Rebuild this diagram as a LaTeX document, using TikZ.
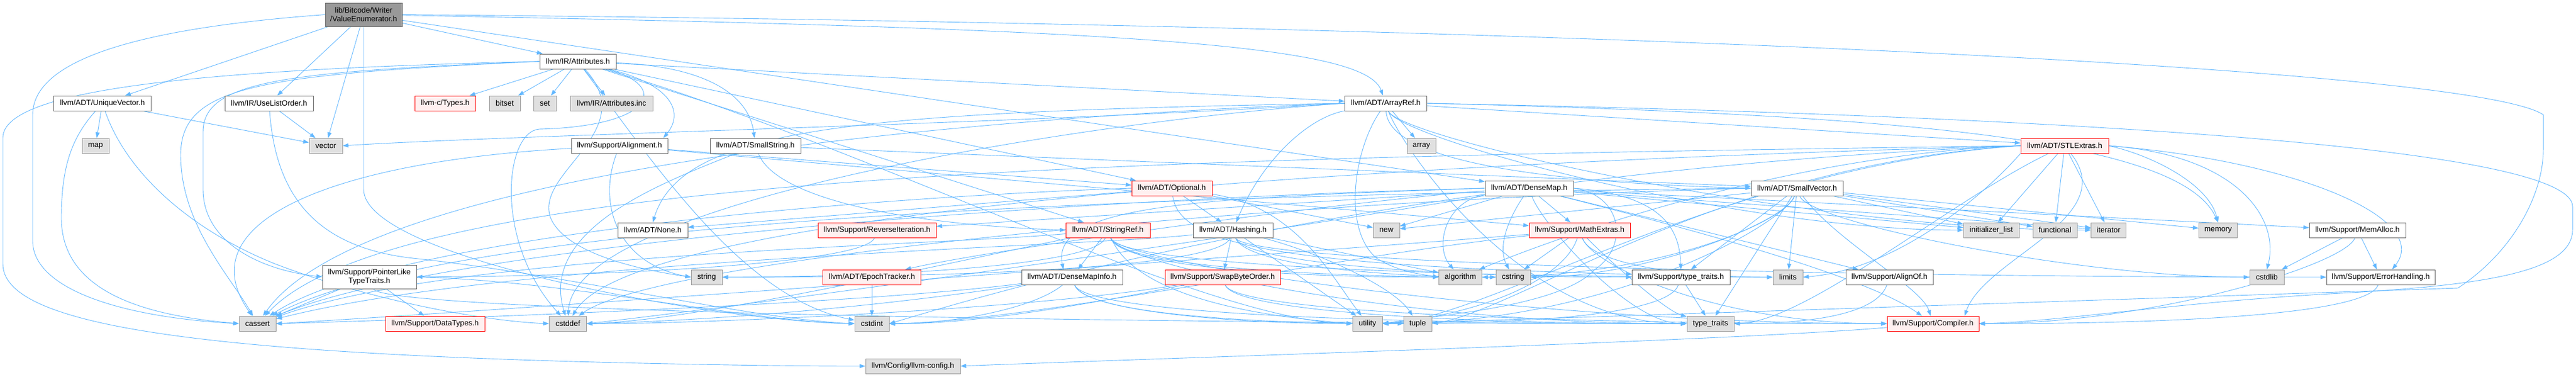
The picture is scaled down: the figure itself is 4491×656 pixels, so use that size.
\documentclass[tikz,border=0pt]{standalone}
\usepackage{fontspec}
\setmainfont{Liberation Sans}
\usetikzlibrary{arrows.meta}
\definecolor{eb}{HTML}{63B8FF}
\definecolor{cdark}{HTML}{666666}
\definecolor{cmid}{HTML}{999999}
\definecolor{cgray}{HTML}{E0E0E0}
\definecolor{cpink}{HTML}{FFF0F0}
\definecolor{cred}{HTML}{FF0000}
\newcommand{\nodefnt}{\fontsize{13.3}{15}\selectfont}
\newcommand{\eir}[3]{\draw[e] (#1) .. controls +(-20,-60) and +(#3,0) .. (#2.east);}
\newcommand{\eil}[3]{\draw[e] (#1) .. controls +(20,-60) and +(-#3,0) .. (#2.west);}
\pgfdeclarelayer{back}
\pgfdeclarelayer{bg}
\pgfsetlayers{back,bg,main}
\tikzset{
  nd/.style={draw, line width=0.8pt, inner sep=0pt, minimum height=26pt, font=\nodefnt, align=center, text=black},
  wn/.style={nd, fill=white, draw=cdark},
  gn/.style={nd, fill=cgray, draw=cmid},
  rn/.style={nd, fill=cpink, draw=cred},
  rootn/.style={nd, fill=cmid, draw=cdark, minimum height=41pt},
  e/.style={draw=eb, line width=0.9pt, -{Triangle[length=10pt,width=7pt]}}
}
\begin{document}
\begin{tikzpicture}[x=1pt,y=1pt]
\begin{pgfonlayer}{back}
\fill[white] (0,0) rectangle (4491,-656);
\end{pgfonlayer}
\useasboundingbox (0,0) rectangle (4491,-656);
% nodes
\node[rootn, minimum width=134pt] (root) at (634,-25.5) {lib/Bitcode/Writer\\/ValueEnumerator.h};
\node[wn, minimum width=170pt] (uv) at (178.5,-180) {llvm/ADT/UniqueVector.h};
\node[wn, minimum width=154pt] (ulo) at (469,-180) {llvm/IR/UseListOrder.h};
\node[gn, minimum width=47pt] (map) at (166.5,-254) {map};
\node[gn, minimum width=58pt] (vector) at (568,-254) {vector};
\node[wn, minimum width=164pt, minimum height=41pt] (plt) at (644,-482.5) {llvm/Support/PointerLike\\TypeTraits.h};
\node[gn, minimum width=64pt] (cassert) at (449,-564) {cassert};
\node[rn, minimum width=173pt] (datatypes) at (758.5,-564) {llvm/Support/DataTypes.h};
\node[wn, minimum width=133pt] (attr) at (1007.5,-107) {llvm/IR/Attributes.h};
\node[rn, minimum width=106pt] (ctypes) at (776,-180) {llvm-c/Types.h};
\node[gn, minimum width=54pt] (bitset) at (880,-180) {bitset};
\node[gn, minimum width=40pt] (set) at (950,-180) {set};
\node[gn, minimum width=144pt] (attrinc) at (1066,-180) {llvm/IR/Attributes.inc};
\node[wn, minimum width=168pt] (align) at (1080,-254) {llvm/Support/Alignment.h};
\node[wn, minimum width=158pt] (smallstr) at (1317,-254) {llvm/ADT/SmallString.h};
\node[wn, minimum width=122pt] (none) at (1138,-401) {llvm/ADT/None.h};
\node[gn, minimum width=54pt] (string) at (1232,-483) {string};
\node[gn, minimum width=65pt] (cstddef) at (990,-564) {cstddef};
\node[rn, minimum width=206pt] (revit) at (1529,-401) {llvm/Support/ReverseIteration.h};
\node[rn, minimum width=171pt] (epoch) at (1520,-483) {llvm/ADT/EpochTracker.h};
\node[gn, minimum width=60pt] (cstdint) at (1520,-564) {cstdint};
\node[gn, minimum width=165pt] (llvmconfig) at (1591.5,-638) {llvm/Config/llvm-config.h};
\node[rn, minimum width=140pt] (optional) at (2043,-328) {llvm/ADT/Optional.h};
\node[rn, minimum width=147pt] (stringref) at (1931.5,-401) {llvm/ADT/StringRef.h};
\node[wn, minimum width=139pt] (hashing) at (2149.5,-401) {llvm/ADT/Hashing.h};
\node[wn, minimum width=176pt] (dmi) at (1869,-483) {llvm/ADT/DenseMapInfo.h};
\node[rn, minimum width=201pt] (swap) at (2131.5,-483) {llvm/Support/SwapByteOrder.h};
\node[wn, minimum width=143pt] (arrayref) at (2416,-180) {llvm/ADT/ArrayRef.h};
\node[gn, minimum width=50pt] (array) at (2478,-254) {array};
\node[wn, minimum width=154pt] (densemap) at (2666,-328) {llvm/ADT/DenseMap.h};
\node[gn, minimum width=46pt] (new) at (2417,-401) {new};
\node[rn, minimum width=176pt] (mathextras) at (2754,-401) {llvm/Support/MathExtras.h};
\node[gn, minimum width=75pt] (algorithm) at (2546,-483) {algorithm};
\node[gn, minimum width=60pt] (cstring) at (2638,-483) {cstring};
\node[wn, minimum width=171pt] (typetraitsh) at (2930.5,-483) {llvm/Support/type\_traits.h};
\node[gn, minimum width=52pt] (utility) at (2384,-564) {utility};
\node[gn, minimum width=49pt] (tuple) at (2471.5,-564) {tuple};
\node[gn, minimum width=82pt] (typetraits) at (2982,-564) {type\_traits};
\node[rn, minimum width=153pt] (stlextras) at (3599.5,-254) {llvm/ADT/STLExtras.h};
\node[wn, minimum width=160pt] (smallvec) at (3133,-328) {llvm/ADT/SmallVector.h};
\node[gn, minimum width=97pt] (initlist) at (3471.5,-401) {initializer\_list};
\node[gn, minimum width=77pt] (functional) at (3582.5,-401) {functional};
\node[gn, minimum width=61pt] (iterator) at (3676,-401) {iterator};
\node[gn, minimum width=52pt] (limits) at (3117,-483) {limits};
\node[wn, minimum width=152pt] (alignof) at (3294,-483) {llvm/Support/AlignOf.h};
\node[rn, minimum width=160pt] (compiler) at (3370,-564) {llvm/Support/Compiler.h};
\node[gn, minimum width=67pt] (memory) at (3867,-401) {memory};
\node[wn, minimum width=168pt] (memalloc) at (4110,-401) {llvm/Support/MemAlloc.h};
\node[gn, minimum width=60pt] (cstdlib) at (3952,-483) {cstdlib};
\node[wn, minimum width=189pt] (errh) at (4150.5,-483) {llvm/Support/ErrorHandling.h};

\begin{pgfonlayer}{bg}
% root
\draw[e] (root) -- (uv);
\draw[e] (root) -- (ulo);
\draw[e] (root) -- (vector);
\draw[e] (root.west) .. controls (300,-45) and (57,-90) .. (57,-200) -- (57,-420) .. controls (57,-500) and (200,-552) .. (cassert.west);
\draw[e] (root) -- (attr);
\draw[e] (root) .. controls (2000,-50) and (2380,-80) .. (arrayref);
\draw[e] (root) -- (densemap);
\draw[e] (root.south) -- (634,-330) .. controls (634,-450) and (1250,-560) .. (cstdint.west);
\draw[e] (root.east) .. controls (2500,-40) and (4300,-110) .. (4434,-200) -- (4434,-260) .. controls (4434,-340) and (4380,-440) .. (4285,-502) .. controls (3600,-525) and (2700,-555) .. (utility.east);
% UniqueVector
\draw[e] (uv) -- (map);
\draw[e] (uv) -- (vector);
\draw[e] (uv) .. controls (125,-240) and (107,-290) .. (107,-380) .. controls (107,-520) and (280,-552) .. (cassert.west);
\draw[e] (uv) .. controls (220,-300) and (330,-400) .. (480,-460) .. controls (650,-525) and (850,-560) .. (cstddef.west);
% UseListOrder
\draw[e] (ulo) -- (vector);
\draw[e] (ulo) .. controls (480,-330) and (540,-430) .. (720,-450) .. controls (1000,-480) and (1300,-555) .. (cstdint.west);
% Attributes
\draw[e] (attr) -- (ctypes);
\draw[e] (attr) -- (bitset);
\draw[e] (attr) -- (set);
\draw[e] (attr) -- (attrinc);
\draw[e] (attr) .. controls (1180,-150) and (1190,-200) .. ([xshift=-8pt]align.north east);
\draw[e] (attr) .. controls (1220,-115) and (1305,-160) .. (smallstr);
\draw[e] (attr) -- (arrayref);
\draw[e] (attr) -- (optional);
\draw[e] (attr) -- (stringref);
\draw[e] (attr.west) .. controls (500,-125) and (354,-140) .. (354,-230) -- (354,-330) .. controls (354,-420) and (450,-470) .. (plt.west);
\draw[e] (attr.west) .. controls (450,-130) and (315,-150) .. (315,-270) .. controls (315,-390) and (400,-480) .. (cassert);
\draw[e] (attr.west) .. controls (400,-120) and (5,-150) .. (5,-240) -- (5,-460) .. controls (5,-560) and (300,-610) .. (1000,-630) .. controls (1300,-638) and (1450,-638) .. (llvmconfig.west);
\draw[e] (attr) .. controls (1170,-150) and (1140,-220) .. (940,-225) .. controls (880,-230) and (860,-420) .. (cstddef);
\draw[e] (attr) .. controls (1120,-230) and (930,-300) .. (960,-380) .. controls (990,-450) and (1150,-475) .. (string.west);
\draw[e] (attr) .. controls (1150,-300) and (1300,-520) .. (cstdint);
\draw[e] (attr) .. controls (1500,-250) and (2100,-560) .. (utility.west);
% ArrayRef
\draw[e] (arrayref) .. controls (2280,-205) and (2200,-280) .. (hashing);
\draw[e] (arrayref.west) .. controls (1500,-195) and (1190,-220) .. (none.north);
\draw[e] (arrayref) .. controls (2420,-290) and (2750,-320) .. (smallvec.west);
\draw[e] (arrayref) -- (stlextras);
\draw[e] (arrayref.east) .. controls (3500,-200) and (4485,-250) .. (4485,-360) -- (4485,-400) .. controls (4485,-470) and (4350,-495) .. (4100,-510) .. controls (3800,-525) and (3600,-560) .. (compiler.east);
\draw[e] (arrayref) .. controls (2360,-260) and (2340,-400) .. (2400,-450) .. controls (2440,-475) and (2480,-478) .. (algorithm.west);
\draw[e] (arrayref) -- (array);
\draw[e] (arrayref.west) .. controls (1800,-200) and (650,-280) .. (cassert);
\draw[e] (arrayref.west) .. controls (1900,-210) and (1000,-350) .. (cstddef);
\eil{arrayref}{initlist}{400}
\eil{arrayref}{iterator}{500}
\draw[e] (arrayref.east) .. controls (3300,-200) and (3800,-240) .. (memory.north);
\eil{arrayref}{typetraits}{300}
\draw[e] (arrayref.west) .. controls (1800,-215) and (900,-235) .. (vector.east);
% Alignment
\draw[e] (align) -- (mathextras);
\draw[e] (align) -- (optional);
\draw[e] (align) .. controls (600,-280) and (320,-380) .. (cassert);
\draw[e] (align) .. controls (1040,-360) and (1080,-460) .. (string.west);
% SmallString
\draw[e] (smallstr) -- (smallvec);
\draw[e] (smallstr) .. controls (1350,-340) and (1550,-390) .. (stringref.west);
\draw[e] (smallstr) .. controls (1150,-320) and (940,-400) .. (cstddef);
% Optional
\draw[e] (optional) -- (hashing);
\draw[e] (optional) -- (none);
\draw[e] (optional) .. controls (2055,-430) and (2250,-462) .. ([yshift=5pt]typetraitsh.west);
\draw[e] (optional.west) .. controls (1600,-340) and (700,-400) .. (cassert);
\draw[e] (optional) -- (new);
\draw[e] (optional) .. controls (2260,-360) and (2320,-480) .. (utility);
% DenseMap
\draw[e] (densemap.west) .. controls (2100,-345) and (1830,-355) .. ([xshift=-15pt]dmi.north);
\draw[e] (densemap) .. controls (2400,-345) and (1750,-430) .. (epoch);
\draw[e] (densemap) -- (alignof);
\draw[e] (densemap) .. controls (2950,-400) and (3250,-480) .. (compiler);
\draw[e] (densemap) -- (mathextras);
\draw[e] (densemap) -- (memalloc);
\draw[e] (densemap) -- (revit);
\draw[e] (densemap.east) .. controls (2900,-340) and (2928,-400) .. (typetraitsh.north);
\draw[e] (densemap) .. controls (2520,-350) and (2500,-430) .. (algorithm);
\draw[e] (densemap.west) .. controls (1900,-345) and (800,-420) .. (cassert);
\draw[e] (densemap) .. controls (2000,-440) and (1200,-545) .. (cstddef.east);
\draw[e] (densemap) .. controls (2630,-380) and (2610,-430) .. (cstring);
\draw[e] (densemap) -- (initlist);
\draw[e] (densemap) -- (iterator);
\draw[e] (densemap) -- (new);
\eil{densemap}{typetraits}{100}
\draw[e] (densemap.east) .. controls (2830,-340) and (2840,-430) .. (2780,-470) .. controls (2720,-535) and (2500,-550) .. (utility.east);
% StringRef
\draw[e] (stringref) -- (dmi);
\eil{stringref}{compiler}{600}
\eil{stringref}{algorithm}{300}
\draw[e] (stringref) .. controls (1600,-430) and (800,-440) .. (cassert);
\draw[e] (stringref) .. controls (1600,-470) and (1200,-560) .. (cstddef.east);
\eil{stringref}{cstring}{350}
\eil{stringref}{limits}{600}
\eir{stringref}{string}{300}
\eil{stringref}{typetraits}{500}
\draw[e] (stringref) .. controls (1960,-470) and (2050,-540) .. (utility.west);
% Hashing
\eil{hashing}{errh}{800}
\draw[e] (hashing) -- (swap);
\eil{hashing}{typetraitsh}{300}
\draw[e] (hashing) -- (algorithm);
\draw[e] (hashing) .. controls (1900,-430) and (900,-450) .. (cassert);
\eil{hashing}{cstring}{200}
\eir{hashing}{string}{500}
\draw[e] (hashing) .. controls (2300,-440) and (2430,-500) .. (tuple);
\draw[e] (hashing) -- (utility);
% DenseMapInfo
\draw[e] (dmi) .. controls (1500,-530) and (800,-555) .. (cassert.east);
\draw[e] (dmi) .. controls (1500,-540) and (1200,-560) .. (cstddef.east);
\draw[e] (dmi) .. controls (1800,-540) and (1650,-565) .. (cstdint.east);
\eil{dmi}{tuple}{300}
\eil{dmi}{typetraits}{600}
\eil{dmi}{utility}{200}
% SwapByteOrder
\eil{swap}{compiler}{600}
\draw[e] (swap) .. controls (1800,-540) and (1200,-565) .. (cstddef.east);
\draw[e] (swap) .. controls (1900,-530) and (1700,-565) .. (cstdint.east);
\eil{swap}{typetraits}{400}
% MathExtras
\eil{mathextras}{compiler}{300}
\draw[e] (mathextras) .. controls (2400,-430) and (900,-540) .. (cassert.east);
\draw[e] (mathextras) .. controls (2300,-450) and (1800,-560) .. (cstdint.east);
\draw[e] (mathextras) -- (cstring);
\eil{mathextras}{limits}{150}
\draw[e] (mathextras) .. controls (2790,-440) and (2900,-540) .. (typetraits);
\draw[e] (mathextras) .. controls (2730,-480) and (2600,-545) .. (utility.east);
% SmallVector
\draw[e] (smallvec) .. controls (3200,-420) and (3350,-500) .. (compiler);
\draw[e] (smallvec) -- (typetraitsh);
\eir{smallvec}{algorithm}{300}
\draw[e] (smallvec.west) .. controls (2000,-340) and (800,-380) .. (cassert);
\draw[e] (smallvec.west) .. controls (2200,-350) and (1150,-450) .. (cstddef);
\eil{smallvec}{cstdlib}{300}
\eir{smallvec}{cstring}{200}
\draw[e] (smallvec) -- (functional);
\draw[e] (smallvec) -- (initlist);
\draw[e] (smallvec) -- (iterator);
\draw[e] (smallvec) -- (limits);
\draw[e] (smallvec) -- (memory);
\draw[e] (smallvec) -- (new);
\draw[e] (smallvec) -- (typetraits);
\eir{smallvec}{utility}{400}
% STLExtras
\draw[e] (stlextras.east) .. controls (4000,-280) and (4240,-380) .. ([xshift=20pt]errh.north);
\draw[e] (stlextras) .. controls (3700,-380) and (3460,-450) .. ([xshift=55pt]compiler.north);
\draw[e] (stlextras.west) .. controls (3100,-270) and (2700,-420) .. (algorithm);
\draw[e] (stlextras.west) .. controls (2000,-275) and (700,-300) .. (cassert);
\draw[e] (stlextras.west) .. controls (2200,-290) and (1100,-380) .. (cstddef);
\draw[e] (stlextras.west) .. controls (2400,-300) and (1700,-520) .. (cstdint.east);
\draw[e] (stlextras.east) .. controls (3900,-270) and (3975,-380) .. (cstdlib.north);
\draw[e] (stlextras) -- (functional);
\draw[e] (stlextras) -- (initlist);
\draw[e] (stlextras) -- (iterator);
\draw[e] (stlextras.south west) .. controls (3450,-350) and (3300,-470) .. (limits.east);
\draw[e] (stlextras.east) .. controls (3750,-270) and (3850,-320) .. (memory.north);
\draw[e] (stlextras.west) .. controls (3000,-285) and (2650,-540) .. (tuple.east);
\draw[e] (stlextras) .. controls (3400,-350) and (3150,-560) .. (typetraits.east);
\draw[e] (stlextras.west) .. controls (3000,-290) and (2600,-555) .. (utility.east);
% others
\eir{memalloc}{compiler}{300}
\draw[e] (memalloc) -- (errh);
\draw[e] (memalloc) -- (cstdlib);
\eir{errh}{compiler}{400}
\eir{alignof}{typetraits}{150}
\draw[e] (typetraitsh) -- (typetraits);
\eir{typetraitsh}{utility}{300}
\draw[e] (epoch) -- (cstdint);
\eir{revit}{plt}{300}
\draw[e] (plt) -- (datatypes);
\draw[e] (plt) -- (cassert);
\draw[e] (plt.east) .. controls (1000,-490) and (1300,-560) .. (cstdint.west);
\eil{plt}{typetraits}{1000}
\draw[e] (compiler) .. controls (3000,-595) and (2000,-625) .. (llvmconfig.east);
\end{pgfonlayer}
\end{tikzpicture}
\end{document}
